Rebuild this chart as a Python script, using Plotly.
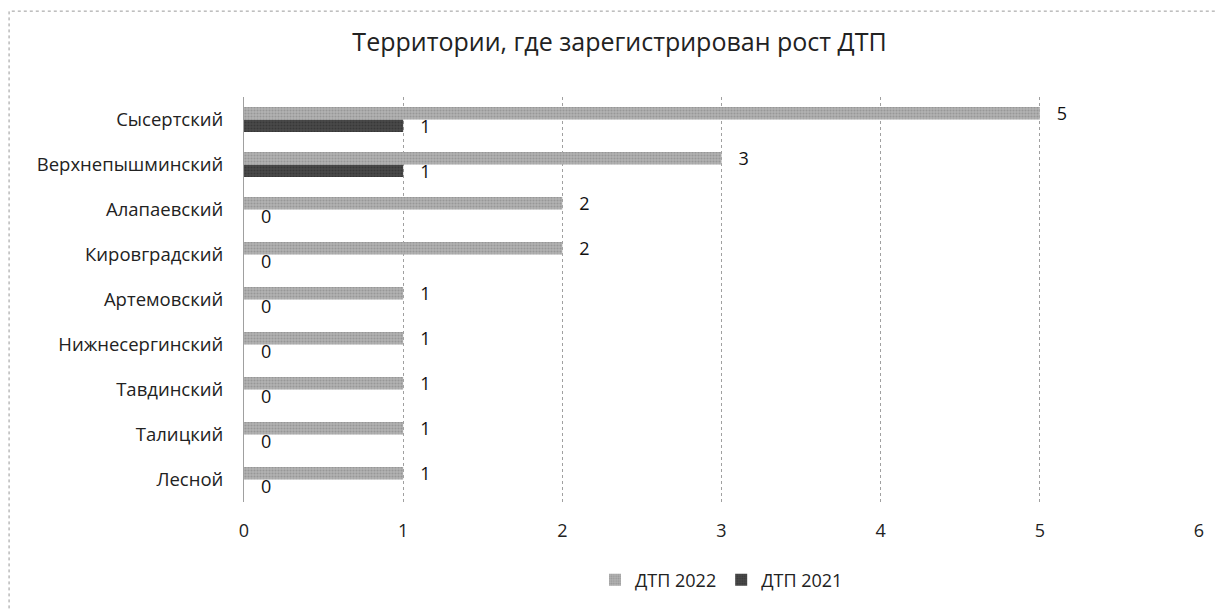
import plotly.graph_objects as go

categories = ["Сысертский", "Верхнепышминский", "Алапаевский", "Кировградский",
              "Артемовский", "Нижнесергинский", "Тавдинский", "Талицкий", "Лесной"]
dtp_2022 = [5, 3, 2, 2, 1, 1, 1, 1, 1]
dtp_2021 = [1, 1, 0, 0, 0, 0, 0, 0, 0]

font = "Open Sans, DejaVu Sans, sans-serif"

fig = go.Figure()
fig.add_trace(go.Bar(
    y=categories, x=dtp_2021, orientation="h", name="ДТП 2021",
    marker=dict(color="#4a4a4a", line=dict(width=0),
                pattern=dict(shape=".", fgcolor="#262626", size=3, solidity=0.4)),
    text=["   " + str(v) for v in dtp_2021], textposition="outside",
    textfont=dict(size=18, color="#111111"), constraintext="none",
    legendrank=2, cliponaxis=False,
))
fig.add_trace(go.Bar(
    y=categories, x=dtp_2022, orientation="h", name="ДТП 2022",
    marker=dict(color="#b2b2b2", line=dict(width=0),
                pattern=dict(shape=".", fgcolor="#7c7c7c", size=3, solidity=0.4)),
    text=["   " + str(v) for v in dtp_2022], textposition="outside",
    textfont=dict(size=18, color="#111111"), constraintext="none",
    legendrank=1, cliponaxis=False,
))

fig.update_layout(
    width=1223, height=610,
    paper_bgcolor="white", plot_bgcolor="white",
    font=dict(family=font, size=18, color="#222"),
    title=dict(text="Территории, где зарегистрирован рост ДТП", x=0.5, xanchor="center",
               y=0.944, yanchor="middle", font=dict(size=25, color="#222")),
    barmode="group", bargap=0.44, bargroupgap=0.0,
    margin=dict(l=236, r=32, t=89, b=116, autoexpand=False),
    xaxis=dict(range=[0, 6], dtick=1, showgrid=True, gridcolor="#a0a0a0", griddash="dot",
               gridwidth=1, zeroline=False, showline=False, ticks="", automargin=False,
               tickfont=dict(size=18), ticklabelstandoff=16),
    yaxis=dict(categoryorder="array", categoryarray=categories[::-1], showline=True,
               linecolor="#a0a0a0", linewidth=1, ticks="", tickfont=dict(size=18.5),
               ticklabelstandoff=16, automargin=False),
    legend=dict(orientation="h", x=0.5, xanchor="center", y=-0.193, yanchor="middle",
                font=dict(size=18), traceorder="normal"),
    showlegend=True,
    shapes=[dict(type="rect", xref="paper", yref="paper", x0=-0.246, x1=1.022, y0=-0.6, y1=1.212,
                 line=dict(color="#999", width=1, dash="dot"))],
)

fig.write_html("out.html")
